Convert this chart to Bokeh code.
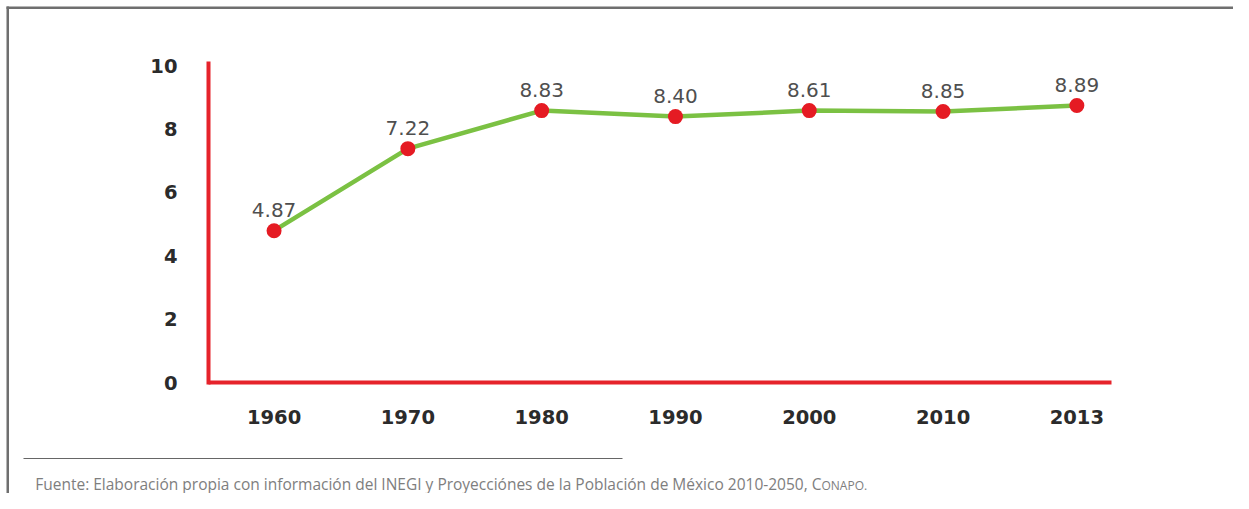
from bokeh.plotting import figure
from bokeh.models import Range1d, FixedTicker, Label, BoxAnnotation, ColumnDataSource
from bokeh.core.properties import value
from bokeh.embed import file_html
from bokeh.resources import INLINE

# ---- data ----
years = ["1960", "1970", "1980", "1990", "2000", "2010", "2013"]
values = [4.79, 7.38, 8.58, 8.39, 8.58, 8.55, 8.74]
value_labels = ["4.87", "7.22", "8.83", "8.40", "8.61", "8.85", "8.89"]
y_ticks = [0, 2, 4, 6, 8, 10]
source_note = ("Fuente: Elaboración propia con información del INEGI y "
               "Proyecciónes de la Población de México 2010-2050, C")
source_note_sc = "ONAPO."

W, H = 1233, 493
xs = list(range(len(years)))
src = ColumnDataSource(dict(x=xs, y=values, lab=value_labels))

# plotting area spans the whole canvas; axes are placed at fixed locations
XL, XR = -0.49, 6.26          # chart box in x
YT = 10.13                    # chart box top in y
PX_X, PX_Y = 133.8, 31.69     # pixels per unit
LEFT_PX, BOTTOM_PX = 208, 382
x_range = Range1d(XL - LEFT_PX / PX_X, XL + (W - LEFT_PX) / PX_X)
y_range = Range1d(-(H - BOTTOM_PX) / PX_Y, BOTTOM_PX / PX_Y)

p = figure(width=W, height=H, output_backend="svg", toolbar_location=None,
           x_range=x_range, y_range=y_range,
           min_border=0, min_border_left=0, min_border_right=0,
           min_border_top=0, min_border_bottom=0)
p.outline_line_color = None
p.grid.visible = False

RED = "#e6232b"
for ax in (p.xaxis[0], p.yaxis[0]):
    ax.axis_line_color = RED
    ax.axis_line_width = 4
    ax.major_tick_line_color = None
    ax.minor_tick_line_color = None
    ax.major_tick_out = 0
    ax.major_tick_in = 0
    ax.minor_tick_out = 0
    ax.minor_tick_in = 0
    ax.major_label_text_font = "DejaVu Sans"
    ax.major_label_text_font_style = "bold"
    ax.major_label_text_font_size = "19.5px"
    ax.major_label_text_color = "#2b2b2b"

p.xaxis.ticker = FixedTicker(ticks=xs)
p.xaxis.major_label_overrides = {i: y for i, y in enumerate(years)}
p.xaxis.major_label_standoff = 27
p.xaxis.fixed_location = 0
p.xaxis.bounds = (XL, XR)
p.yaxis.ticker = FixedTicker(ticks=y_ticks)
p.yaxis.major_label_standoff = 31
p.yaxis.fixed_location = XL
p.yaxis.bounds = (-2 / PX_Y, YT)

p.line("x", "y", source=src, line_color="#7bc143", line_width=4.5)
p.scatter("x", "y", source=src, size=15, fill_color="#e51b23", line_color=None)
p.text("x", "y", text="lab", source=src, y_offset=-21, text_align="center",
       text_baseline="middle", text_font=value("DejaVu Sans"),
       text_font_size="20px", text_color="#4f4f4f")

# page frame lines, rule and source note (screen units, origin bottom-left)
GRAY = "#6f6f6f"
def box(l, r, b, t, color):
    p.add_layout(BoxAnnotation(left=l, right=r, bottom=b, top=t,
                               left_units="screen", right_units="screen",
                               top_units="screen", bottom_units="screen",
                               fill_color=color, fill_alpha=1, line_color=None))
box(6, W, H - 8.5, H - 6, GRAY)        # top border
box(6, 8.5, 0, H - 6, GRAY)            # left border
box(23, 622, H - 458.5, H - 457.5, "#666666")   # rule above source note

NOTE_Y = H - 483
JOIN_X = 821
p.add_layout(Label(x=JOIN_X, y=NOTE_Y, x_units="screen", y_units="screen",
                   text=source_note, text_baseline="middle", text_align="right",
                   text_font="Open Sans", text_font_size="15.5px",
                   text_color="#7e7e7e"))
p.add_layout(Label(x=JOIN_X, y=NOTE_Y - 1.5, x_units="screen", y_units="screen",
                   text=source_note_sc, text_baseline="middle", text_align="left",
                   text_font="Open Sans", text_font_size="12px",
                   text_color="#7e7e7e"))

open("out.html", "w").write(file_html(p, INLINE))
